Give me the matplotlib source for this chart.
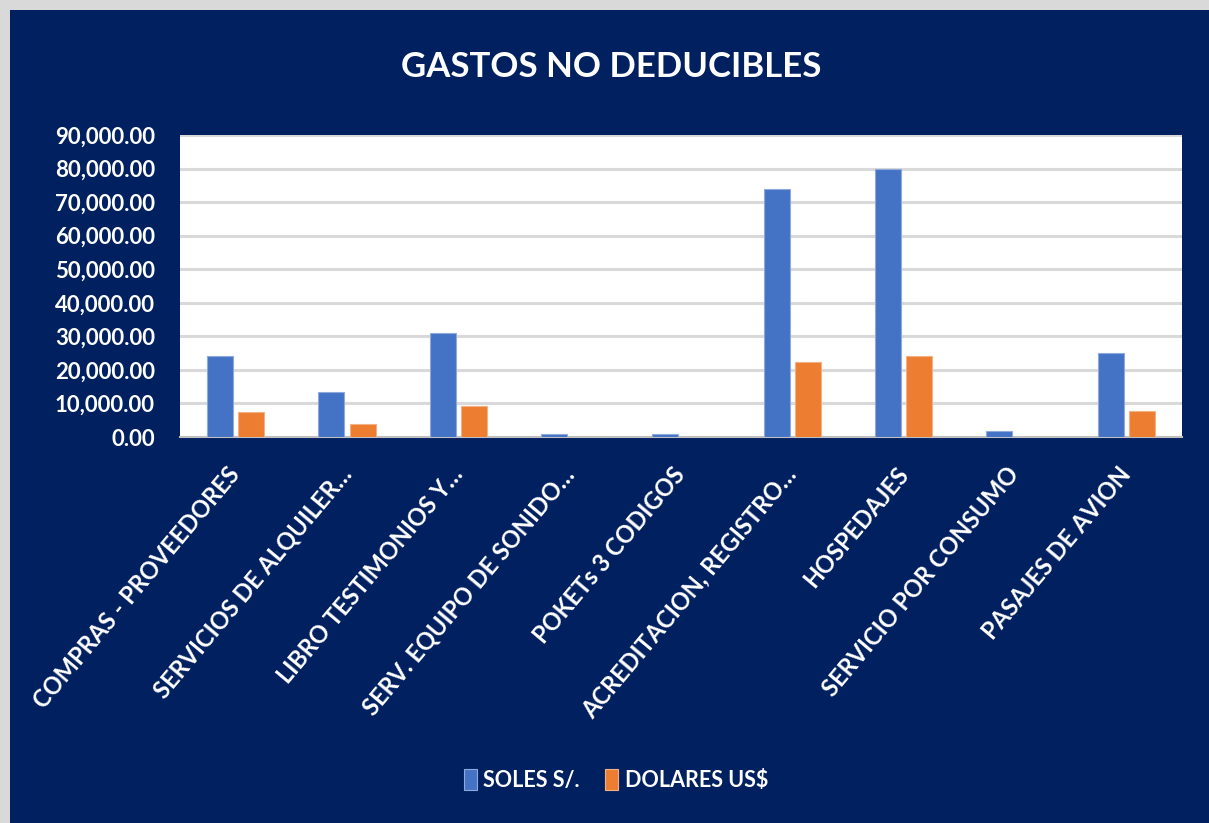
import matplotlib
matplotlib.use("Agg")
import matplotlib.pyplot as plt
import numpy as np
from matplotlib.patches import Rectangle
from matplotlib.ticker import FuncFormatter

categories = ["COMPRAS - PROVEEDORES", "SERVICIOS DE ALQUILER…", "LIBRO TESTIMONIOS Y…",
              "SERV. EQUIPO DE SONIDO…", "POKETs 3 CODIGOS", "ACREDITACION, REGISTRO…",
              "HOSPEDAJES", "SERVICIO POR CONSUMO", "PASAJES DE AVION"]
soles = [24000, 13300, 30900, 900, 800, 74000, 80000, 1900, 25000]
dolares = [7400, 3800, 9200, 0, 0, 22500, 24000, 0, 7800]
series_names = ["SOLES S/.", "DOLARES US$"]
title = "GASTOS NO DEDUCIBLES"

NAVY = "#002060"
BLUE = "#4472C4"
ORANGE = "#ED7D31"
FONT = ["Lato", "DejaVu Sans"]
plt.rcParams['font.family'] = FONT

fig = plt.figure(figsize=(12.09, 8.23), dpi=100)
fig.patch.set_facecolor("#d9d9d9")
fig.add_artist(Rectangle((10/1209, 0), 1 - 10/1209, 1 - 10/823, transform=fig.transFigure,
                         facecolor=NAVY, edgecolor="none", zorder=0))

ax = fig.add_axes([180/1209, 1 - 437/823, (1182 - 180)/1209, (437 - 135)/823])
ax.set_facecolor("white")
x = np.arange(len(categories))
w = 0.235
gap = 0.045
ax.bar(x - (w + gap)/2, soles, w, color=BLUE, edgecolor="#8fa9dc", linewidth=0.8, label=series_names[0], zorder=3)
ax.bar(x + (w + gap)/2, dolares, w, color=ORANGE, edgecolor="#f4b183", linewidth=0.8, label=series_names[1], zorder=3)

ax.set_xlim(-0.5, len(categories) - 0.5)
ax.set_ylim(0, 90000)
ax.set_yticks(np.arange(0, 90001, 10000))
ax.yaxis.set_major_formatter(FuncFormatter(lambda v, p: f"{v:,.2f}"))
ax.grid(axis="y", color="#d9d9d9", linewidth=2.2, zorder=0)
ax.set_axisbelow(True)
for s in ["top", "right", "left"]:
    ax.spines[s].set_visible(False)
ax.spines["bottom"].set_color("#bfbfbf")
ax.spines["bottom"].set_linewidth(1.5)
ax.tick_params(axis="y", length=0, pad=18, labelsize=16, labelcolor="white")
ax.tick_params(axis="x", length=0, pad=24)
for lab in ax.get_yticklabels():
    lab.set_fontweight("bold")
ax.set_xticks(x)
ax.set_xticklabels(categories, rotation=50, ha="right", va="center", rotation_mode="anchor",
                   fontsize=17, fontweight="bold", color="white")

fig.text(611/1209, 1 - 67/823, title, ha="center", va="center", color="white",
         fontsize=25, fontweight="bold")

leg = fig.legend(loc="center", bbox_to_anchor=(616/1209, 1 - 780/823), ncol=2, frameon=False,
                 prop={"weight": "bold", "size": 15.5}, handlelength=0.6, handleheight=1.1,
                 handletextpad=0.3, columnspacing=1.2)
for t in leg.get_texts():
    t.set_color("white")

fig.savefig("out.png", dpi=100, facecolor=fig.get_facecolor())
